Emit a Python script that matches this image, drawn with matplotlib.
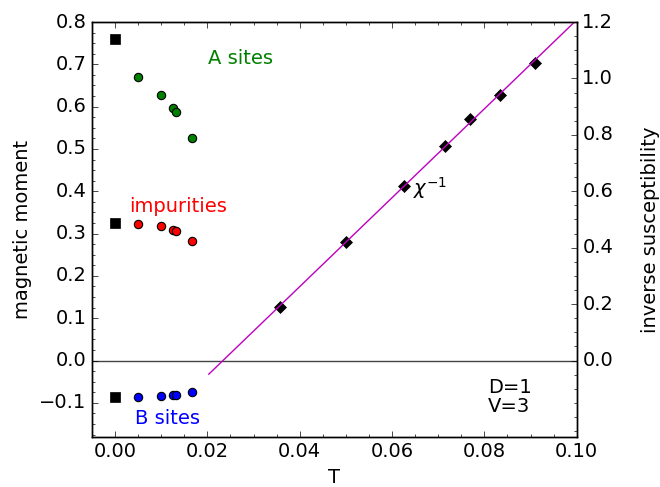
import numpy as np
import matplotlib
matplotlib.use('Agg')
import matplotlib.pyplot as plt
from matplotlib.ticker import MultipleLocator

plt.style.use('classic')
plt.rcParams['font.size'] = 14
plt.rcParams['mathtext.fontset'] = 'dejavusans'

# data
T_sites = [0.005, 0.01, 0.0125, 0.0133, 0.0167]
m_A = [0.671, 0.627, 0.596, 0.5865, 0.5265]
m_imp = [0.3217, 0.317, 0.3076, 0.306, 0.2823]
m_B = [-0.0858, -0.085, -0.0826, -0.082, -0.0755]

T0 = [0.0, 0.0, 0.0]
m0 = [0.760, 0.324, -0.0865]

T_chi = [1/28, 1/20, 1/16, 1/14, 1/13, 1/12, 1/11]
inv_chi = [0.190, 0.419, 0.620, 0.760, 0.855, 0.941, 1.056]

fig = plt.figure(figsize=(6.6, 4.87), dpi=100, facecolor='white')
ax = fig.add_axes([0.1394, 0.1033, 0.7344, 0.8515])

ax.axhline(0, color='#444444', lw=1)
ax.plot(T0, m0, 's', color='black', ms=6.5, mec='black')
ax.plot(T_sites, m_A, 'o', color='green', ms=6, mec='black', mew=0.8)
ax.plot(T_sites, m_imp, 'o', color='red', ms=6, mec='black', mew=0.8)
ax.plot(T_sites, m_B, 'o', color='blue', ms=6, mec='black', mew=0.8)

ax.text(0.0201, 0.714, 'A sites', color='green', fontsize=14, va='center')
ax.text(0.0031, 0.365, 'impurities', color='red', fontsize=14, va='center')
ax.text(0.0043, -0.137, 'B sites', color='blue', fontsize=14, va='center')
ax.text(0.0808, -0.086, 'D=1\nV=3', fontsize=14, va='center', linespacing=1.0)

ax.set_xlim(-0.005, 0.1)
ax.set_ylim(-0.18, 0.8)
ax.set_xlabel('T')
ax.set_ylabel('magnetic moment')
ax.yaxis.set_major_locator(MultipleLocator(0.1))
ax.yaxis.set_minor_locator(MultipleLocator(0.025))
ax.set_xticks(np.arange(0, 0.101, 0.02))
ax.xaxis.set_minor_locator(MultipleLocator(0.005))
ax.xaxis.set_major_formatter(plt.FormatStrFormatter('%.2f'))

ax2 = ax.twinx()
ax2.plot(T_chi, inv_chi, 'D', color='black', ms=6.5, mec='black')
coef = np.polyfit(T_chi, inv_chi, 1)
Tl = np.array([0.0203, 0.1])
ax2.plot(Tl, np.polyval(coef, Tl), '-', color='m', lw=1)
ax2.text(0.0645, 0.61, r'$\chi^{-1}$', fontsize=14, va='center')
ax2.set_ylim(-0.27, 1.2)
ax2.set_xlim(-0.005, 0.1)
ax2.set_ylabel('inverse susceptibility', labelpad=20)
ax2.set_yticks(np.arange(0, 1.21, 0.2))
ax2.yaxis.set_minor_locator(MultipleLocator(0.05))

fig.savefig('out.png', dpi=100, facecolor='white')
